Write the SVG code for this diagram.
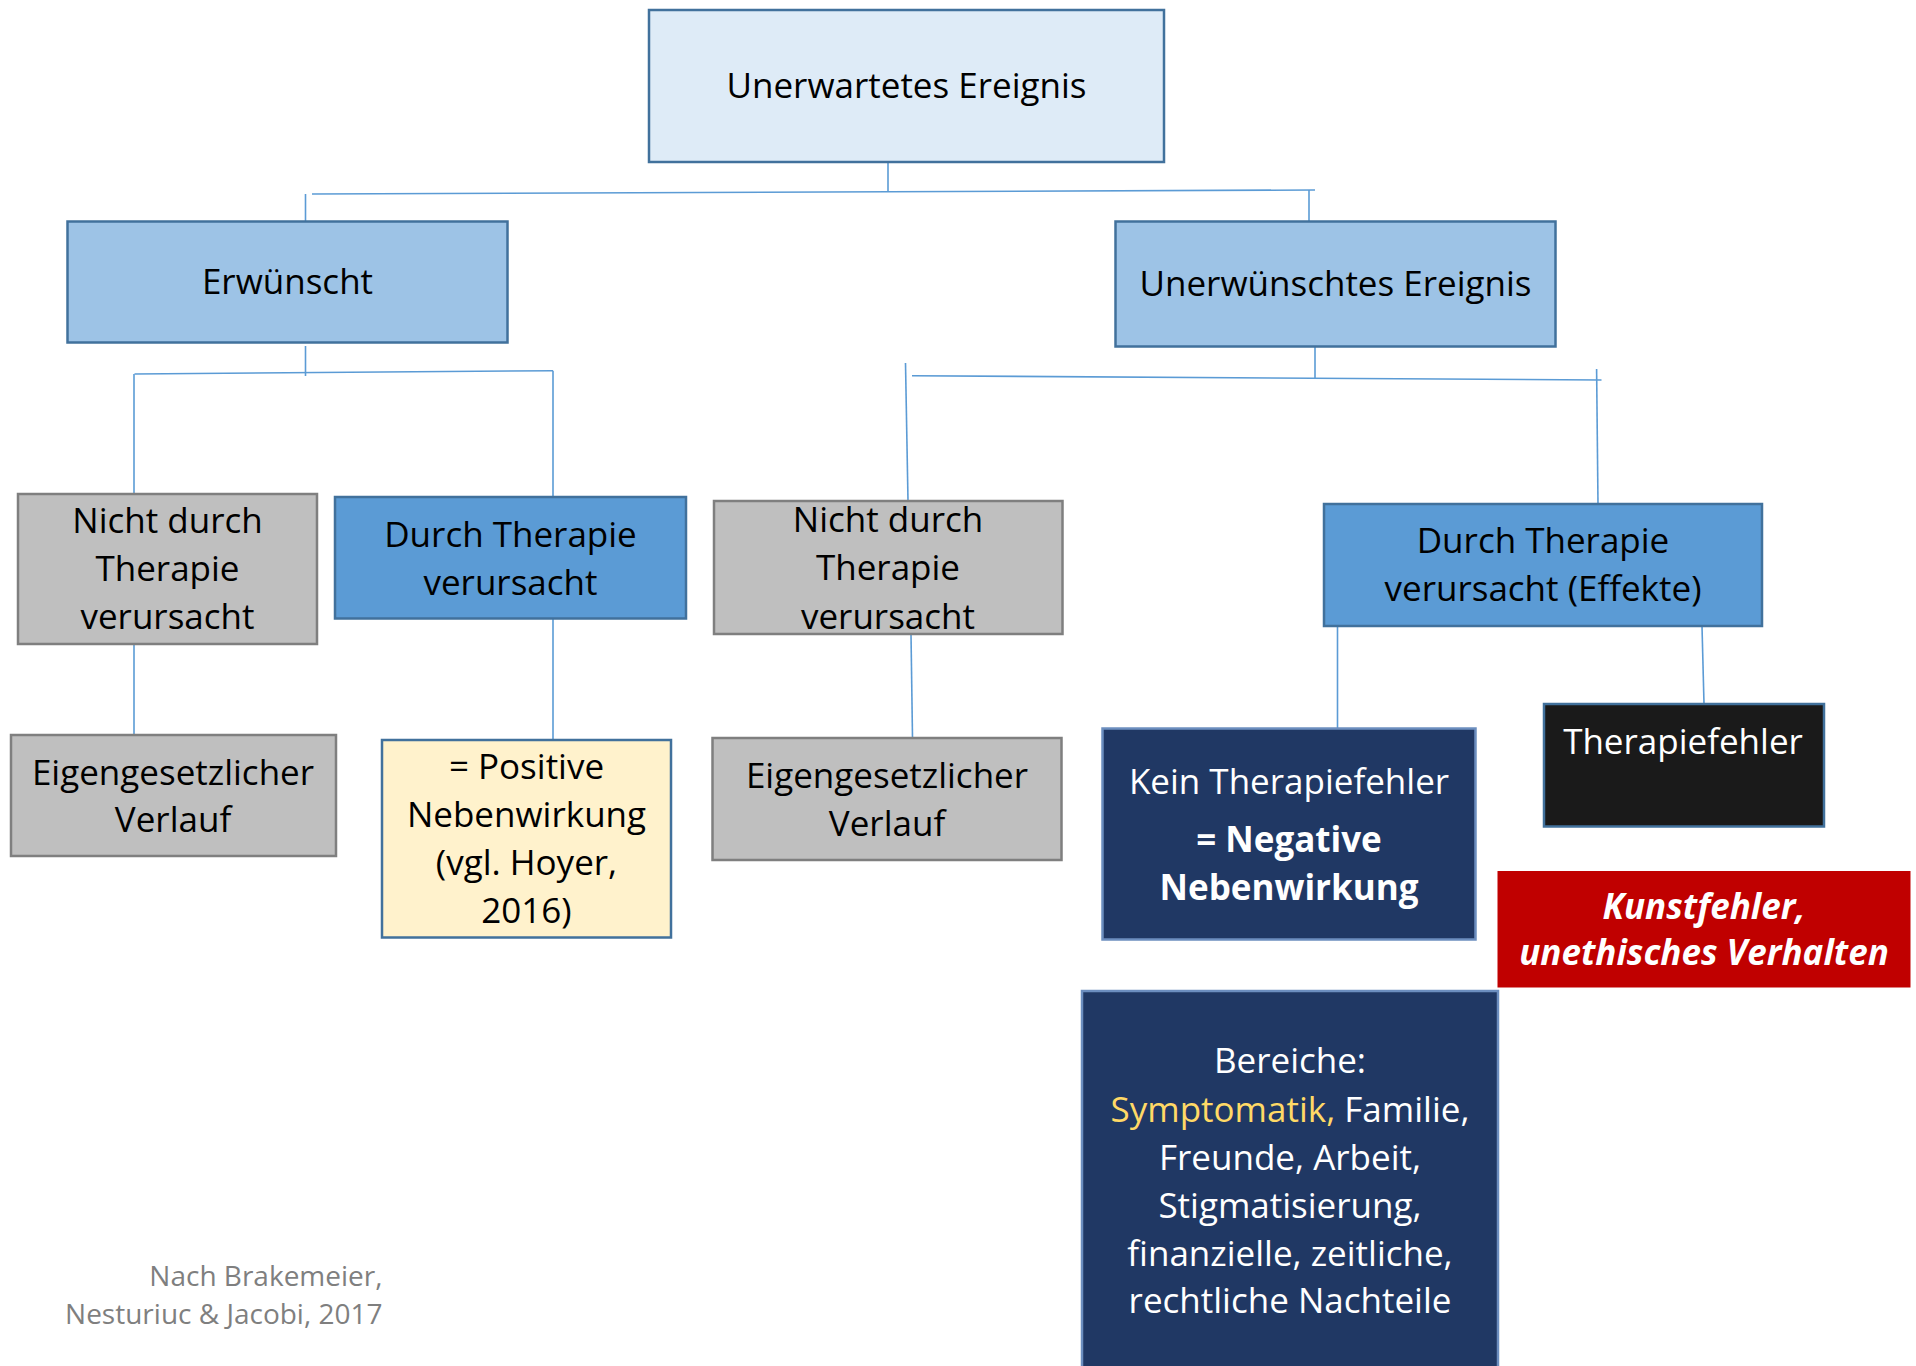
<svg xmlns="http://www.w3.org/2000/svg" width="1916" height="1366" viewBox="0 0 1916 1366">
<style>
text{font-family:"Open Sans","Noto Sans","Liberation Sans",sans-serif;font-size:35px;text-anchor:middle}
.dk{fill:#000}
.wt{fill:#fff}
.b1{fill:#DEEBF7;stroke:#41719C;stroke-width:2.5}
.b2{fill:#9DC3E6;stroke:#41719C;stroke-width:2.5}
.b3{fill:#5B9BD5;stroke:#41719C;stroke-width:2.5}
.gr{fill:#BFBFBF;stroke:#7F7F7F;stroke-width:2.5}
.ye{fill:#FFF2CC;stroke:#41719C;stroke-width:2.5}
.nv{fill:#203864;stroke:#6C8EBF;stroke-width:2.5}
.bk{fill:#1A1A1A;stroke:#41719C;stroke-width:2.5}
.cn line{stroke:#5B9BD5;stroke-width:1.6}
.src{font-size:28px;text-anchor:end;fill:#7F7F7F}
</style>
<rect width="1916" height="1366" fill="#fff"/>
<g class="cn" id="connectors">
<line x1="888" y1="162" x2="888" y2="191"/>
<line x1="312" y1="194" x2="1315" y2="190"/>
<line x1="305.5" y1="194" x2="305.5" y2="221"/>
<line x1="1309" y1="190" x2="1309" y2="221"/>
<line x1="305.5" y1="346" x2="305.5" y2="376"/>
<line x1="134.5" y1="374" x2="553" y2="370.7"/>
<line x1="134" y1="374" x2="134" y2="494"/>
<line x1="553" y1="370.7" x2="553" y2="497"/>
<line x1="1315" y1="347" x2="1315" y2="379"/>
<line x1="912" y1="375.7" x2="1601.5" y2="380"/>
<line x1="905.5" y1="363" x2="908" y2="501"/>
<line x1="1596.6" y1="369" x2="1598" y2="504"/>
<line x1="134" y1="644" x2="134" y2="735"/>
<line x1="553" y1="618.6" x2="553" y2="740"/>
<line x1="911" y1="634" x2="912.5" y2="738"/>
<line x1="1337.5" y1="626" x2="1337.5" y2="728.4"/>
<line x1="1702" y1="626" x2="1704" y2="704"/>
</g>
<g id="n-unerwartet">
<rect class="b1" x="649" y="10" width="515" height="152"/>
<text class="dk" x="906.5" y="98">Unerwartetes Ereignis</text>
</g>
<g id="n-erwuenscht">
<rect class="b2" x="67.5" y="221.5" width="440" height="121"/>
<text class="dk" x="287.5" y="294">Erwünscht</text>
</g>
<g id="n-unerwuenscht">
<rect class="b2" x="1115.5" y="221.5" width="440" height="125"/>
<text class="dk" x="1335.5" y="296">Unerwünschtes Ereignis</text>
</g>
<g id="n-nicht-links">
<rect class="gr" x="18" y="494" width="299" height="150"/>
<text class="dk" x="167.5" y="533">Nicht durch</text>
<text class="dk" x="167.5" y="581">Therapie</text>
<text class="dk" x="167.5" y="629">verursacht</text>
</g>
<g id="n-durch-links">
<rect class="b3" x="335" y="497" width="351" height="121.5"/>
<text class="dk" x="510.5" y="547">Durch Therapie</text>
<text class="dk" x="510.5" y="595">verursacht</text>
</g>
<g id="n-eigen-links">
<rect class="gr" x="11" y="735" width="325" height="121"/>
<text class="dk" x="173" y="785">Eigengesetzlicher</text>
<text class="dk" x="173" y="832">Verlauf</text>
</g>
<g id="n-positiv">
<rect class="ye" x="382" y="740" width="289" height="197.5"/>
<text class="dk" x="526.5" y="779">= Positive</text>
<text class="dk" x="526.5" y="827">Nebenwirkung</text>
<text class="dk" x="526.5" y="875">(vgl. Hoyer,</text>
<text class="dk" x="526.5" y="923">2016)</text>
</g>
<g id="n-nicht-mitte">
<rect class="gr" x="714" y="501" width="348.5" height="133"/>
<text class="dk" x="888" y="532">Nicht durch</text>
<text class="dk" x="888" y="580">Therapie</text>
<text class="dk" x="888" y="628.5">verursacht</text>
</g>
<g id="n-eigen-mitte">
<rect class="gr" x="712.5" y="738" width="349" height="122"/>
<text class="dk" x="887" y="788">Eigengesetzlicher</text>
<text class="dk" x="887" y="836">Verlauf</text>
</g>
<g id="n-durch-effekte">
<rect class="b3" x="1324" y="504" width="438" height="122"/>
<text class="dk" x="1543" y="553">Durch Therapie</text>
<text class="dk" x="1543" y="601">verursacht (Effekte)</text>
</g>
<g id="n-kein">
<rect class="nv" x="1102.5" y="728.5" width="373" height="211"/>
<text class="wt" x="1289" y="794">Kein Therapiefehler</text>
<text class="wt" x="1289" y="851.5" font-weight="bold">= Negative</text>
<text class="wt" x="1289" y="899.5" font-weight="bold">Nebenwirkung</text>
</g>
<g id="n-therapiefehler">
<rect class="bk" x="1544" y="704" width="280" height="122.5"/>
<text class="wt" x="1683" y="754">Therapiefehler</text>
</g>
<g id="n-kunstfehler">
<rect x="1497.5" y="871" width="413" height="116.5" fill="#C00000"/>
<text class="wt" x="1704" y="918.5" font-weight="bold" font-style="italic">Kunstfehler,</text>
<text class="wt" x="1704" y="964.5" font-weight="bold" font-style="italic">unethisches Verhalten</text>
</g>
<g id="n-bereiche">
<rect class="nv" x="1082" y="991" width="416" height="390"/>
<text class="wt" x="1290" y="1073">Bereiche:</text>
<text class="wt" x="1290" y="1121.5"><tspan fill="#FFD966">Symptomatik,</tspan> Familie,</text>
<text class="wt" x="1290" y="1169.5">Freunde, Arbeit,</text>
<text class="wt" x="1290" y="1217.5">Stigmatisierung,</text>
<text class="wt" x="1290" y="1265.5">finanzielle, zeitliche,</text>
<text class="wt" x="1290" y="1313">rechtliche Nachteile</text>
</g>
<g id="quelle">
<text class="src" x="382.5" y="1286">Nach Brakemeier,</text>
<text class="src" x="382.5" y="1324">Nesturiuc &amp; Jacobi, 2017</text>
</g>
</svg>
